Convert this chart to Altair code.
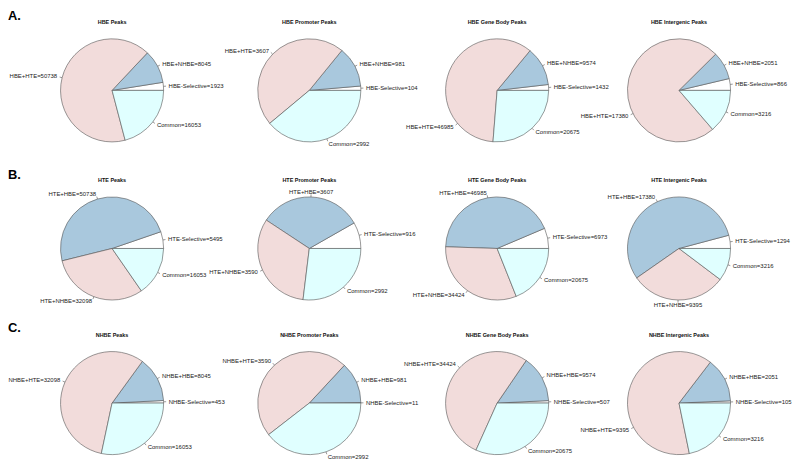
import math
import altair as alt
import pandas as pd

row_letters = ["A.", "B.", "C."]
cell_types = ["HBE", "HTE", "NHBE"]
region_titles = ["Peaks", "Promoter Peaks", "Gene Body Peaks", "Intergenic Peaks"]

hbe_categories = ["HBE-Selective", "HBE+NHBE", "HBE+HTE", "Common"]
hte_categories = ["HTE-Selective", "HTE+HBE", "HTE+NHBE", "Common"]
nhbe_categories = ["NHBE-Selective", "NHBE+HBE", "NHBE+HTE", "Common"]

hbe_peaks = [1923, 8045, 50738, 16053]
hbe_promoter = [104, 981, 3607, 2992]
hbe_gene_body = [1432, 9574, 46985, 20675]
hbe_intergenic = [866, 2051, 17380, 3216]

hte_peaks = [5495, 50738, 32098, 16053]
hte_promoter = [916, 3607, 3590, 2992]
hte_gene_body = [6973, 46985, 34424, 20675]
hte_intergenic = [1294, 17380, 9395, 3216]

nhbe_peaks = [453, 8045, 32098, 16053]
nhbe_promoter = [11, 981, 3590, 2992]
nhbe_gene_body = [507, 9574, 34424, 20675]
nhbe_intergenic = [105, 2051, 9395, 3216]

slice_colors = ["#FFFFFF", "#A9C8DD", "#F2DCDB", "#E0FFFF"]

rows_data = [
    (hbe_categories, [hbe_peaks, hbe_promoter, hbe_gene_body, hbe_intergenic]),
    (hte_categories, [hte_peaks, hte_promoter, hte_gene_body, hte_intergenic]),
    (nhbe_categories, [nhbe_peaks, nhbe_promoter, nhbe_gene_body, nhbe_intergenic]),
]

# ---- layout / style (not data) ----
R = 52
col_widths = [210, 188, 191, 176]
row_heights = [162, 157, 155]
title_y = [12, 9, 9]
letter_y = [0, -2, -4]
# label leader nudges (degrees, counter-clockwise) keyed by (row, col, slot),
# mimicking the hand-placed labels of the original figure
label_nudge = {(0, 2, 2): 62, (0, 3, 2): 29, (2, 2, 2): -14, (2, 3, 2): 41}

FONT = "Liberation Sans"
EDGE = "#555555"
LABEL_SIZE = 6.0


def panel(ri, ci, categories, values, title, w, h, letter, ty, ly):
    df = pd.DataFrame({"slot": list(range(len(values))), "name": categories, "value": values})
    xr = w / (2 * R)
    yr = h / (2 * R)
    xs = alt.Scale(domain=[-xr, xr], nice=False, zero=False)
    ys = alt.Scale(domain=[-yr, yr], nice=False, zero=False)
    nudge_terms = " + ".join(
        f"(datum.slot == {s} ? {math.radians(d):.5f} : 0)"
        for (r_, c_, s), d in label_nudge.items()
        if r_ == ri and c_ == ci
    ) or "0"
    base = (
        alt.Chart(df)
        .transform_joinaggregate(total="sum(value)")
        .transform_window(cum="sum(value)", sort=[alt.SortField("slot")], frame=[None, 0])
        .transform_calculate(
            f0="(datum.cum - datum.value) / datum.total",
            f1="datum.cum / datum.total",
        )
        .transform_calculate(ang=f"PI * (datum.f0 + datum.f1) + {nudge_terms}")
        .transform_calculate(
            cx="cos(datum.ang)",
            cy="sin(datum.ang)",
        )
        .transform_calculate(
            lx2="1.05 * datum.cx",
            ly2="1.05 * datum.cy",
            tx="1.1 * datum.cx",
            ty="1.1 * datum.cy",
            label="datum.name + '=' + datum.value",
        )
    )
    arcs = base.mark_arc(radius=R, stroke=EDGE, strokeWidth=0.6).encode(
        theta=alt.Theta(
            "f0:Q",
            scale=alt.Scale(domain=[0, 1], range=[math.pi / 2, math.pi / 2 - 2 * math.pi]),
            stack=False,
        ),
        theta2="f1:Q",
        color=alt.Color(
            "slot:N",
            scale=alt.Scale(domain=[0, 1, 2, 3], range=slice_colors),
            legend=None,
        ),
    )
    leaders = base.mark_rule(color=EDGE, strokeWidth=0.6).encode(
        x=alt.X("cx:Q", scale=xs, axis=None),
        y=alt.Y("cy:Q", scale=ys, axis=None),
        x2="lx2:Q",
        y2="ly2:Q",
    )

    def labels(cond, align):
        return base.transform_filter(cond).mark_text(
            align=align, baseline="middle", font=FONT, fontSize=LABEL_SIZE, color="#222222"
        ).encode(
            x=alt.X("tx:Q", scale=xs, axis=None),
            y=alt.Y("ty:Q", scale=ys, axis=None),
            text="label:N",
        )

    right = labels("datum.cx >= 0.1", "left")
    mid = labels("abs(datum.cx) < 0.1", "center")
    left = labels("datum.cx <= -0.1", "right")
    ttl = alt.Chart(pd.DataFrame({"t": [title]})).mark_text(
        align="center", baseline="middle", font=FONT, fontSize=5.5, fontWeight="bold", color="#111111"
    ).encode(x=alt.value(w / 2), y=alt.value(ty), text="t:N")
    layers = [arcs, leaders, right, mid, left, ttl]
    if letter:
        let = alt.Chart(pd.DataFrame({"t": [letter]})).mark_text(
            align="left", baseline="top", font=FONT, fontSize=13, fontWeight="bold", color="#000000"
        ).encode(x=alt.value(0), y=alt.value(ly), text="t:N")
        layers.append(let)
    return alt.layer(*layers).properties(width=w, height=h)


panels = []
for ri, (cats, vals_list) in enumerate(rows_data):
    for ci, vals in enumerate(vals_list):
        title = f"{cell_types[ri]} {region_titles[ci]}"
        panels.append(
            panel(
                ri, ci, cats, vals, title, col_widths[ci], row_heights[ri],
                row_letters[ri] if ci == 0 else None, title_y[ri], letter_y[ri],
            )
        )

chart = (
    alt.concat(*panels, columns=4, spacing=0, bounds="flush")
    .resolve_scale(theta="independent", x="independent", y="independent", color="independent")
    .properties(padding=0)
    .configure_view(stroke=None)
)

chart.save("out.html", embed_options={"renderer": "svg", "actions": False})
